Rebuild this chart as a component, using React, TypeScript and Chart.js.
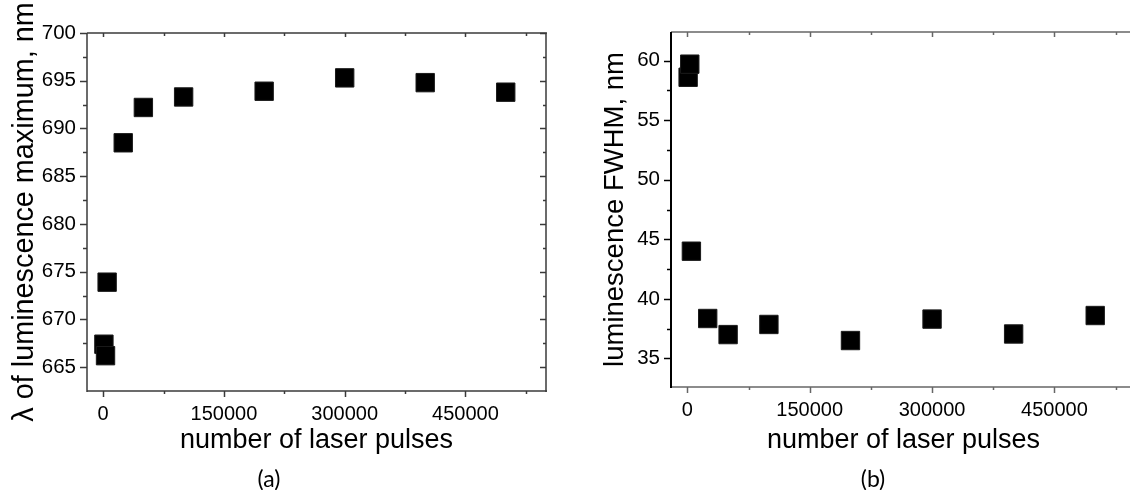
import React, { useEffect, useRef } from "react";
import { Chart, registerables } from "chart.js";

Chart.register(...registerables);

// ---- data ----
const pulses = [1000, 3000, 5000, 25000, 50000, 100000, 200000, 300000, 400000, 500000];
const lambdaMax = [667.4, 666.2, 673.9, 688.5, 692.2, 693.3, 693.9, 695.3, 694.8, 693.8];
const fwhm = [58.6, 59.7, 44.0, 38.35, 37.0, 37.85, 36.5, 38.3, 37.05, 38.6];

const xTickValues = [0, 150000, 300000, 450000];
const xMinorValues = [75000, 225000, 375000, 525000];
const yTicksA = [665, 670, 675, 680, 685, 690, 695, 700];
const yMinorA = [667.5, 672.5, 677.5, 682.5, 687.5, 692.5, 697.5];
const yTicksB = [35, 40, 45, 50, 55, 60];
const yMinorB = [37.5, 42.5, 47.5, 52.5, 57.5];

const FONT = "'Liberation Sans', Arial, sans-serif";

type Side = { show: boolean; color: string; width: number; major: number; minor: number; out: boolean };
type FrameOpts = { left: Side; right: Side; top: Side; bottom: Side; yMajor: number[]; yMinor: number[] };

const framePlugin = {
  id: "frame",
  afterDraw(chart: any, _args: any, opts: FrameOpts) {
    const { ctx, chartArea } = chart;
    const { left, right, top, bottom } = chartArea;
    const xs = chart.scales.x;
    const ys = chart.scales.y;
    ctx.save();
    const line = (x1: number, y1: number, x2: number, y2: number, c: string, w: number) => {
      ctx.beginPath();
      ctx.strokeStyle = c;
      ctx.lineWidth = w;
      ctx.moveTo(x1, y1);
      ctx.lineTo(x2, y2);
      ctx.stroke();
    };
    (["top", "bottom"] as const).forEach((k) => {
      const s = opts[k];
      if (!s.show) return;
      const y0 = k === "top" ? top : bottom;
      line(left, y0, right + 1, y0, s.color, s.width);
      const dir = (k === "bottom") === s.out ? 1 : -1;
      xTickValues.forEach((v) => {
        const px = Math.round(xs.getPixelForValue(v)) + 0.5;
        line(px, y0, px, y0 + dir * s.major, s.color, 1.5);
      });
      xMinorValues.forEach((v) => {
        const px = Math.round(xs.getPixelForValue(v)) + 0.5;
        line(px, y0, px, y0 + dir * s.minor, s.color, 1.5);
      });
    });
    (["left", "right"] as const).forEach((k) => {
      const s = opts[k];
      if (!s.show) return;
      const x0 = k === "left" ? left : right;
      line(x0, top, x0, bottom + 1, s.color, s.width);
      const dir = (k === "right") === s.out ? 1 : -1;
      opts.yMajor.forEach((v) => {
        const py = Math.round(ys.getPixelForValue(v)) + 0.5;
        line(x0, py, x0 + dir * s.major, py, s.color, 1.5);
      });
      opts.yMinor.forEach((v) => {
        const py = Math.round(ys.getPixelForValue(v)) + 0.5;
        line(x0, py, x0 + dir * s.minor, py, s.color, 1.5);
      });
    });
    ctx.restore();
  },
};

type PanelProps = {
  values: number[];
  yMin: number;
  yMax: number;
  yTicks: number[];
  yMinor: number[];
  yTitle: string;
  yTitleSize: number;
  yTitlePad: number;
  xTitleSize: number;
  xTitlePad: number;
  width: number;
  yAxisWidth: number;
  xAxisHeight: number;
  padTop: number;
  padRight: number;
  frame: Omit<FrameOpts, "yMajor" | "yMinor">;
  style: React.CSSProperties;
};

function Panel(p: PanelProps) {
  const ref = useRef<HTMLCanvasElement | null>(null);
  useEffect(() => {
    if (!ref.current) return;
    const chart = new Chart(ref.current, {
      type: "scatter",
      data: {
        datasets: [
          {
            data: pulses.map((x, i) => ({ x, y: p.values[i] })),
            pointStyle: "rect",
            pointRadius: 13,
            pointHoverRadius: 13,
            backgroundColor: "#000",
            borderColor: "#1a1a1a",
            borderWidth: 1,
          },
        ],
      },
      options: {
        responsive: false,
        animation: false,
        devicePixelRatio: 1,
        layout: { padding: { top: p.padTop, right: p.padRight, left: 0, bottom: 0 } },
        plugins: {
          legend: { display: false },
          tooltip: { enabled: false },
          frame: { ...p.frame, yMajor: p.yTicks, yMinor: p.yMinor },
        } as any,
        scales: {
          x: {
            type: "linear",
            min: -20000,
            max: 550000,
            afterBuildTicks: (s: any) => {
              s.ticks = xTickValues.map((v) => ({ value: v }));
            },
            afterFit: (s: any) => {
              s.height = p.xAxisHeight;
            },
            grid: { display: false, drawTicks: false },
            border: { display: false },
            ticks: {
              color: "#000",
              padding: 11,
              maxRotation: 0,
              font: { family: FONT, size: 20 },
              callback: (v: any) => String(v),
            },
            title: {
              display: true,
              text: "number of laser pulses",
              color: "#000",
              font: { family: FONT, size: p.xTitleSize },
              padding: { top: 0, bottom: p.xTitlePad },
            },
          },
          y: {
            type: "linear",
            min: p.yMin,
            max: p.yMax,
            afterBuildTicks: (s: any) => {
              s.ticks = p.yTicks.map((v) => ({ value: v }));
            },
            afterFit: (s: any) => {
              s.width = p.yAxisWidth;
            },
            grid: { display: false, drawTicks: false },
            border: { display: false },
            ticks: {
              color: "#000",
              padding: 11,
              font: { family: FONT, size: 20.5 },
              callback: (v: any) => String(v),
            },
            title: {
              display: true,
              text: p.yTitle,
              color: "#000",
              font: { family: FONT, size: p.yTitleSize },
              padding: { top: p.yTitlePad, bottom: 0 },
            },
          },
        },
      },
      plugins: [framePlugin],
    } as any);
    return () => chart.destroy();
  }, []);
  return <canvas ref={ref} width={p.width} height={490} style={{ position: "absolute", top: 0, ...p.style }} />;
}

const sideA = (over: Partial<Side>): Side => ({ show: true, color: "#3a3a3a", width: 1.5, major: 6, minor: 3, out: true, ...over });

const labelStyle: React.CSSProperties = {
  position: "absolute",
  top: 466,
  transform: "translateX(-50%)",
  fontFamily: "Lato, 'Open Sans', sans-serif",
  fontSize: 23,
  lineHeight: "24px",
  color: "#000",
  whiteSpace: "nowrap",
};

export default function App() {
  return (
    <div
      style={{
        position: "fixed",
        left: 0,
        top: 0,
        width: 1130,
        height: 490,
        overflow: "hidden",
        background: "#fff",
      }}
    >
      <Panel
        values={lambdaMax}
        yMin={662.5}
        yMax={700}
        yTicks={yTicksA}
        yMinor={yMinorA}
        yTitle="λ of luminescence maximum, nm"
        yTitleSize={28.8}
        yTitlePad={8}
        xTitleSize={27}
        xTitlePad={33}
        width={560}
        yAxisWidth={87}
        xAxisHeight={99}
        padTop={33}
        padRight={14}
        frame={{
          left: sideA({ major: 7, minor: 4 }),
          bottom: sideA({ major: 6, minor: 3 }),
          top: sideA({ out: false, major: 4, minor: 3 }),
          right: sideA({ out: false, major: 6, minor: 3 }),
        }}
        style={{ left: 0 }}
      />
      <Panel
        values={fwhm}
        yMin={32.6}
        yMax={62.4}
        yTicks={yTicksB}
        yMinor={yMinorB}
        yTitle="luminescence FWHM, nm"
        yTitleSize={27.5}
        yTitlePad={19}
        xTitleSize={27}
        xTitlePad={33}
        width={570}
        yAxisWidth={91}
        xAxisHeight={103}
        padTop={32}
        padRight={12}
        frame={{
          left: sideA({ color: "#000", width: 2, major: 7, minor: 4 }),
          bottom: sideA({ color: "#666", major: 6, minor: 3 }),
          top: sideA({ color: "#666", out: false, major: 5, minor: 3 }),
          right: sideA({ show: false }),
        }}
        style={{ left: 580 }}
      />
      <div style={{ ...labelStyle, left: 269 }}>(a)</div>
      <div style={{ ...labelStyle, left: 873 }}>(b)</div>
    </div>
  );
}
